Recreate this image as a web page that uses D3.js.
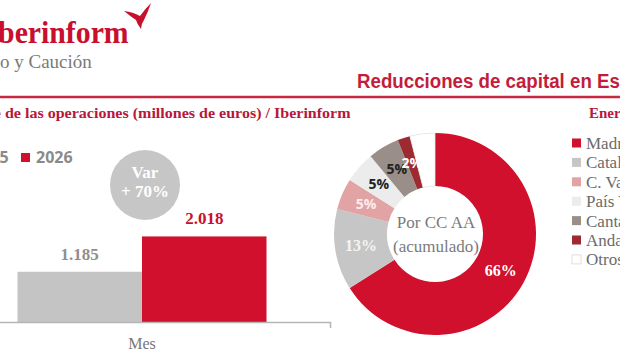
<!DOCTYPE html>
<html>
<head>
<meta charset="utf-8">
<script src="https://cdn.jsdelivr.net/npm/d3@7"></script>
<style>
  html, body { margin: 0; padding: 0; background: #fff; overflow: hidden; }
  svg { display: block; }
</style>
</head>
<body>
<div id="chart"></div>
<script>
// ---- data ----
const barCategories = ["Mes"];
const barSeries = ["2025", "2026"];
const barValues = [1185, 2018];
const barLabels = ["1.185", "2.018"];
const variationText = ["Var", "+ 70%"];

const regions = ["Madrid", "Cataluña", "C. Valenciana", "País Vasco", "Cantabria", "Andalucía", "Otros"];
const regionShares = [66, 13, 5, 5, 5, 2, 4];
const regionLabels = ["66%", "13%", "5%", "5%", "5%", "2%", ""];

const titleText = "Reducciones de capital en España";
const subtitleText = "Importe de las operaciones (millones de euros) / Iberinform";
const periodText = "Enero 2026";
const donutCenterText = ["Por CC AA", "(acumulado)"];

// ---- styles ----
const RED = "#d0102c";
const barColors = ["#c4c4c4", RED];
const regionColors = ["#d0102c", "#c6c6c6", "#e2a3a5", "#ececec", "#9a8f88", "#9c2a30", "#ffffff"];
const labelColors = ["#ffffff", "#f4f4f4", "#fbecec", "#222222", "#222222", "#ffffff", "#ffffff"];
const SERIF = "'Liberation Serif', 'DejaVu Serif', serif";
const SANS = "'Open Sans', 'Noto Sans', sans-serif";

const W = 620, H = 350;
const svg = d3.select("#chart").append("svg").attr("width", W).attr("height", H);

// ---- header / logo ----
const logo = svg.append("g");
logo.append("text").attr("x", -1).attr("y", 43)
  .attr("font-family", SERIF).attr("font-weight", 700).attr("font-size", 32)
  .attr("fill", "#c8102e").attr("text-anchor", "start")
  .attr("transform", "translate(-1,0) scale(0.93,1)")
  .text("berinform");
logo.append("text").attr("x", -1).attr("y", 43)
  .attr("font-family", SERIF).attr("font-weight", 700).attr("font-size", 32)
  .attr("fill", "#c8102e").attr("text-anchor", "end").text("I");
logo.append("path")
  .attr("d", "M124,11 Q133,12 140,16 Q145,9 151,3 Q148,12 144,20 Q141,24 141,29 Q137,24 136,20 Q130,16 124,11 Z")
  .attr("fill", "#c8102e");
logo.append("text").attr("x", 0).attr("y", 68)
  .attr("font-family", SERIF).attr("font-size", 19).attr("fill", "#7a7a7a")
  .text("o y Caución");
logo.append("text").attr("x", 0).attr("y", 68)
  .attr("font-family", SERIF).attr("font-size", 19).attr("fill", "#7a7a7a")
  .attr("text-anchor", "end").text("Crédit");

// title, horizontally condensed so that "...en Es" reaches the right edge
const title = svg.append("text").attr("x", 0).attr("y", 0)
  .attr("font-family", "'Liberation Sans', Arial, sans-serif")
  .attr("font-weight", 700).attr("font-size", 21).attr("fill", "#c41d3c");
const tPre = title.append("tspan").text(titleText.slice(0, 28));
const tW = tPre.node().getComputedTextLength();
title.append("tspan").text(titleText.slice(28));
title.attr("transform", `translate(357,88) scale(${263 / tW},1)`);

svg.append("line").attr("x1", 0).attr("x2", W).attr("y1", 97).attr("y2", 97)
  .attr("stroke", "#c92842").attr("stroke-width", 2.5);

// subtitle: visible part starts at the left edge
const sub = svg.append("text").attr("y", 0)
  .attr("font-family", SERIF).attr("font-weight", 700).attr("font-size", 15)
  .attr("fill", "#b8173b");
const subParts = subtitleText.split(" de las");
const subA = sub.append("tspan").text(subParts[0] + " ");
const hiddenW = subA.node().getComputedTextLength();
const subB = sub.append("tspan").text("de las" + subParts[1]);
const visW = subB.node().getComputedTextLength();
const sx = 346 / visW;
sub.attr("transform", `translate(${1 - hiddenW * sx},118) scale(${sx},1)`);

svg.append("text").attr("x", 589).attr("y", 118)
  .attr("font-family", SERIF).attr("font-weight", 700).attr("font-size", 15)
  .attr("fill", "#b8173b").text(periodText);

// ---- bar chart ----
const x0 = d3.scaleBand().domain(barCategories).range([-46, 330]).paddingOuter(0.255).paddingInner(0);
const x1 = d3.scaleBand().domain(barSeries).range([0, x0.bandwidth()]).padding(0);
const y = d3.scaleLinear().domain([0, 2500]).range([322, 216]);

const bars = svg.append("g");
barSeries.forEach((s, i) => {
  const bx = x0(barCategories[0]) + x1(s);
  bars.append("rect").attr("x", bx).attr("y", y(barValues[i]))
    .attr("width", x1.bandwidth()).attr("height", y(0) - y(barValues[i]))
    .attr("fill", barColors[i]);
  bars.append("text").attr("x", bx + x1.bandwidth() / 2).attr("y", y(barValues[i]) - 12)
    .attr("text-anchor", "middle").attr("font-family", SERIF).attr("font-weight", 700)
    .attr("font-size", 17).attr("fill", i === 0 ? "#8f8f8f" : "#c8102e")
    .text(barLabels[i]);
});

const xAxis = d3.axisBottom(x0).tickSizeInner(0).tickSizeOuter(6).tickPadding(16);
const axG = svg.append("g").attr("transform", "translate(0,322)").call(xAxis);
axG.select(".domain").attr("stroke", "#b5b5b5").attr("stroke-width", 1.5);
axG.selectAll(".tick text").attr("font-family", SERIF).attr("font-size", 16)
  .attr("fill", "#777").attr("dy", "0.71em");

// legend (bars)
const lg = svg.append("g");
barSeries.forEach((s, i) => {
  const lx = 21 + (i - 1) * 64;
  lg.append("rect").attr("x", lx).attr("y", 153).attr("width", 9).attr("height", 9).attr("fill", barColors[i]);
  lg.append("text").attr("x", lx + 15).attr("y", 163)
    .attr("font-family", SANS).attr("font-weight", 700).attr("font-size", 16)
    .attr("fill", "#8a8a8a").text(s);
});

// variation bubble
svg.append("circle").attr("cx", 145).attr("cy", 185).attr("r", 35).attr("fill", "#c6c6c6");
variationText.forEach((t, i) => {
  svg.append("text").attr("x", 145).attr("y", 178 + i * 19)
    .attr("text-anchor", "middle").attr("font-family", SERIF).attr("font-weight", 700)
    .attr("font-size", 17).attr("fill", "#ffffff").text(t);
});

// ---- donut ----
const cx = 435, cy = 234, rOut = 101, rIn = 48;
const pie = d3.pie().sort(null).value(d => d)(regionShares);
const arc = d3.arc().innerRadius(rIn).outerRadius(rOut);
const lblArc = d3.arc().innerRadius(75).outerRadius(75);
const dg = svg.append("g").attr("transform", `translate(${cx},${cy})`);
dg.selectAll("path").data(pie).join("path")
  .attr("d", arc)
  .attr("fill", (d, i) => regionColors[i])
  .attr("stroke", (d, i) => i === regionShares.length - 1 ? "#e2e2e2" : "none")
  .attr("stroke-width", 0.8);
dg.selectAll("text.lbl").data(pie).join("text").attr("class", "lbl")
  .attr("transform", d => `translate(${lblArc.centroid(d)})`)
  .attr("text-anchor", "middle").attr("dy", "0.35em")
  .attr("font-family", (d, i) => regionShares[i] >= 10 ? SERIF : SANS)
  .attr("font-weight", 700)
  .attr("font-size", (d, i) => regionShares[i] >= 10 ? 16 : 14)
  .attr("fill", (d, i) => labelColors[i])
  .text((d, i) => regionLabels[i]);
donutCenterText.forEach((t, i) => {
  dg.append("text").attr("x", 1).attr("y", -6 + i * 24).attr("text-anchor", "middle")
    .attr("font-family", SERIF).attr("font-size", 17).attr("fill", "#7a7a7a").text(t);
});

// donut legend
const rl = svg.append("g");
regions.forEach((r, i) => {
  const ly = 143 + i * 19.4;
  rl.append("rect").attr("x", 572).attr("y", ly - 4.5).attr("width", 9).attr("height", 9)
    .attr("fill", regionColors[i])
    .attr("stroke", i === regions.length - 1 ? "#d8d8d8" : "none").attr("stroke-width", 0.8);
  rl.append("text").attr("x", 586).attr("y", ly).attr("dy", "0.35em")
    .attr("font-family", SERIF).attr("font-size", 17).attr("fill", "#6b6b6b").text(r);
});
</script>
</body>
</html>
